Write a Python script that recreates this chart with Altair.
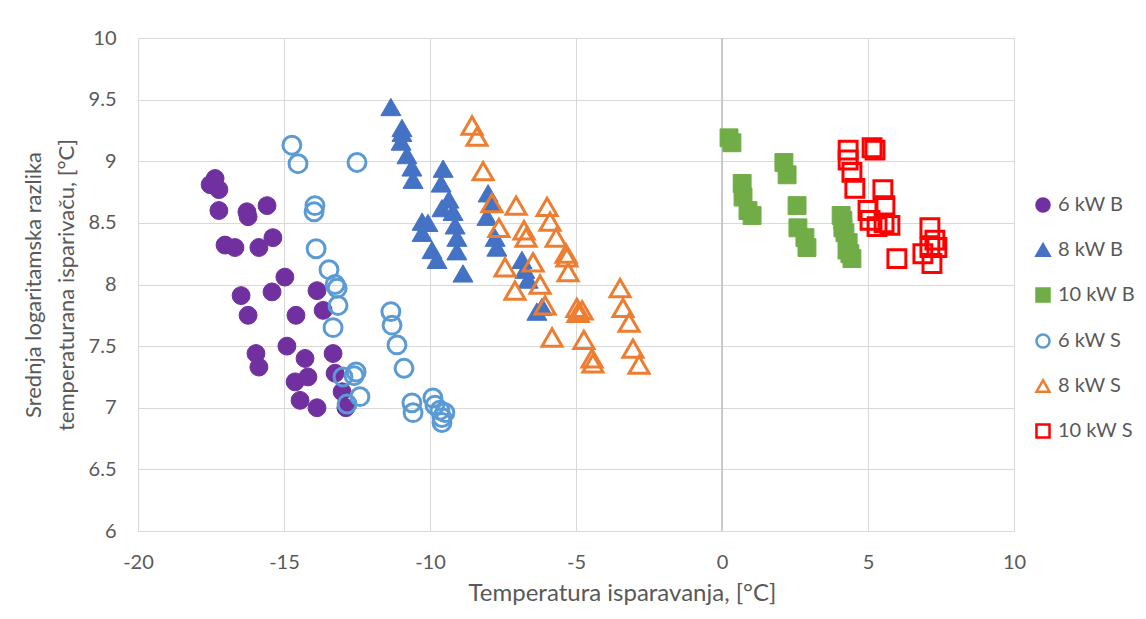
import altair as alt
import pandas as pd

series = ["6 kW B", "8 kW B", "10 kW B", "6 kW S", "8 kW S", "10 kW S"]
strokes = ["#7030A0", "#4472C4", "#70AD47", "#5B9BD5", "#ED7D31", "#FF0000"]
fills = ["#7030A0", "#4472C4", "#70AD47", "transparent", "transparent", "transparent"]
shapes = ["circle", "triangle-up", "square", "circle", "triangle-up", "square"]

x_6B = [-17.36, -17.53, -17.23, -17.23, -16.27, -16.23, -15.58, -17.02, -16.68, -15.86,
        -15.38, -14.97, -15.41, -16.47, -16.23, -14.59, -13.87, -13.66, -14.90, -14.28,
        -15.96, -15.86, -13.32, -13.25, -14.62, -14.18, -13.01, -14.45, -13.87, -12.88]
y_6B = [8.86, 8.81, 8.77, 8.60, 8.59, 8.55, 8.64, 8.32, 8.30, 8.30,
        8.38, 8.06, 7.94, 7.91, 7.75, 7.75, 7.95, 7.79, 7.50, 7.40,
        7.44, 7.33, 7.44, 7.28, 7.21, 7.25, 7.13, 7.06, 7.00, 7.00]

x_8B = [-11.34, -10.96, -10.96, -10.99, -10.79, -10.62, -10.58, -9.55, -9.62, -9.35,
        -9.59, -9.21, -9.14, -9.08, -9.08, -8.87, -10.27, -10.07, -10.27, -9.93,
        -9.76, -8.01, -7.88, -8.05, -7.77, -7.71, -6.85, -6.75, -6.64, -6.16, -6.34]
y_8B = [9.44, 9.27, 9.23, 9.16, 9.05, 8.95, 8.85, 8.94, 8.82, 8.69,
        8.62, 8.59, 8.48, 8.38, 8.27, 8.09, 8.51, 8.50, 8.42, 8.28,
        8.20, 8.74, 8.66, 8.55, 8.38, 8.30, 8.20, 8.12, 8.04, 7.82, 7.78]

x_10B = [0.24, 0.34, 0.69, 0.72, 0.89, 1.03, 2.12, 2.23, 2.57, 2.60,
         2.84, 2.91, 4.14, 4.14, 4.21, 4.32, 4.38, 4.45, 4.08, 4.28]
y_10B = [9.19, 9.15, 8.82, 8.71, 8.60, 8.56, 8.99, 8.89, 8.64, 8.46,
         8.38, 8.30, 8.52, 8.46, 8.42, 8.34, 8.25, 8.21, 8.56, 8.28]

x_6S = [-14.73, -14.52, -12.50, -13.94, -13.97, -13.90, -13.46, -13.18, -13.15, -13.32,
        -11.34, -11.30, -11.13, -10.89, -12.53, -12.98, -12.40, -12.84, -10.62, -10.58,
        -9.90, -9.83, -9.66, -9.59, -9.59, -9.49, -13.25, -12.60]
y_6S = [9.13, 8.98, 8.99, 8.64, 8.59, 8.29, 8.12, 7.97, 7.83, 7.65,
        7.78, 7.67, 7.51, 7.32, 7.29, 7.25, 7.09, 7.03, 7.04, 6.96,
        7.08, 7.02, 6.98, 6.92, 6.88, 6.96, 8.00, 7.26]

x_8S = [-8.56, -8.39, -8.18, -7.88, -7.05, -5.99, -5.89, -7.64, -6.78, -6.71,
        -5.68, -5.34, -5.31, -5.27, -7.43, -6.47, -6.23, -7.09, -6.06, -4.97,
        -4.79, -4.93, -5.82, -4.73, -4.45, -4.42, -3.49, -3.39, -3.18, -3.05, -2.84]
y_8S = [9.29, 9.20, 8.92, 8.66, 8.64, 8.63, 8.51, 8.46, 8.44, 8.38,
        8.38, 8.25, 8.22, 8.10, 8.14, 8.18, 8.00, 7.95, 7.83, 7.81,
        7.79, 7.77, 7.57, 7.55, 7.40, 7.36, 7.97, 7.81, 7.69, 7.48, 7.35]

x_10S = [4.32, 4.32, 4.45, 4.55, 5.14, 5.24, 5.51, 5.58, 5.00, 5.07,
         5.31, 5.55, 5.75, 5.99, 7.12, 7.29, 7.12, 6.88, 7.19, 7.36]
y_10S = [9.09, 9.01, 8.91, 8.78, 9.11, 9.09, 8.77, 8.64, 8.60, 8.52,
         8.47, 8.50, 8.48, 8.21, 8.46, 8.36, 8.30, 8.25, 8.17, 8.30]

x_ticks = [-20, -15, -10, -5, 0, 5, 10]
y_ticks = [6, 6.5, 7, 7.5, 8, 8.5, 9, 9.5, 10]

rows = []
for name, xs, ys in zip(series, [x_6B, x_8B, x_10B, x_6S, x_8S, x_10S],
                        [y_6B, y_8B, y_10B, y_6S, y_8S, y_10S]):
    for a, b in zip(xs, ys):
        rows.append({"series": name, "x": a, "y": b})
df = pd.DataFrame(rows)

FONT = "Lato"
TXT = "#595959"
GRID = "#d9d9d9"

leg = alt.Legend(
    title=None, orient="none", legendX=895, legendY=157,
    labelFont=FONT, labelFontSize=20, labelColor=TXT, labelOffset=5,
    symbolSize=170, symbolStrokeWidth=2.5, rowPadding=22, padding=0,
)

points = alt.Chart(df).mark_point(filled=False, opacity=1, fillOpacity=1).encode(
    x=alt.X("x:Q", scale=alt.Scale(domain=[-20, 10], nice=False, zero=False),
            axis=alt.Axis(values=x_ticks, labelExpr="'' + datum.value", labelFlush=False,
                          title="Temperatura isparavanja, [°C]",
                          grid=True, gridColor=GRID, domainColor=GRID, ticks=False,
                          labelFont=FONT, labelFontSize=20, labelColor=TXT, labelPadding=21,
                          titleFont=FONT, titleFontSize=24, titleColor=TXT,
                          titleFontWeight="normal", titlePadding=9,
                          titleX=484, titleAlign="center")),
    y=alt.Y("y:Q", scale=alt.Scale(domain=[6, 10], nice=False, zero=False),
            axis=alt.Axis(values=y_ticks, labelExpr="'' + datum.value", labelFlush=False,
                          title=["Srednja logaritamska razlika", "temperaturana isparivaču, [°C]"],
                          grid=True, gridColor=GRID, domain=False, ticks=False,
                          labelFont=FONT, labelFontSize=20, labelColor=TXT, labelPadding=22,
                          titleFont=FONT, titleFontSize=22, titleColor=TXT,
                          titleFontWeight="normal", titlePadding=10, titleLineHeight=33)),
    stroke=alt.Stroke("series:N", scale=alt.Scale(domain=series, range=strokes), legend=leg),
    fill=alt.Fill("series:N", scale=alt.Scale(domain=series, range=fills), legend=leg),
    shape=alt.Shape("series:N", scale=alt.Scale(domain=series, range=shapes), legend=leg),
    strokeWidth=alt.condition("slice(datum.series, -1) == 'S'", alt.value(3), alt.value(1)),
    size=alt.condition("slice(datum.series, 0, 2) == '8 '", alt.value(400), alt.value(320)),
)

zero_line = alt.Chart(pd.DataFrame({"x": [0]})).mark_rule(color="#bfbfbf", strokeWidth=1.5).encode(
    x="x:Q"
)

chart = alt.layer(zero_line, points).properties(
    width=876, height=493,
    autosize=alt.AutoSizeParams(type="none"),
    padding={"left": 130, "top": 30, "right": 124, "bottom": 80},
).configure_view(stroke=None).configure(background="white")

chart.save("out.html", embed_options={"renderer": "svg", "actions": False})
